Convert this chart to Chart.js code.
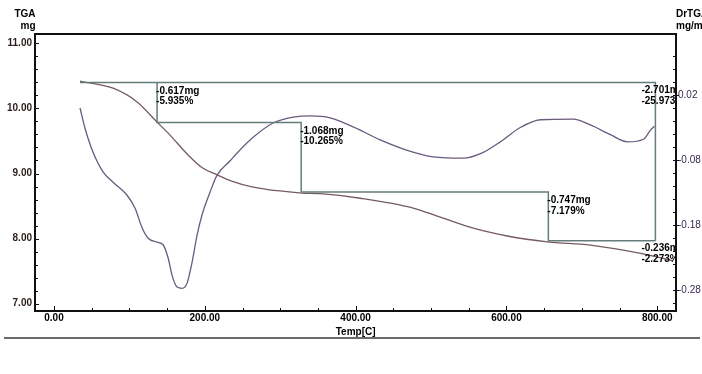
<!DOCTYPE html>
<html>
<head>
<meta charset="utf-8">
<script src="https://cdn.jsdelivr.net/npm/chart.js@4"></script>
<style>
    html, body { margin: 0; padding: 0; background: #ffffff; }
    #wrap { position: relative; width: 702px; height: 374px; }
</style>
</head>
<body>
<div id="wrap"><canvas id="tga" width="702" height="374"></canvas></div>
<script>
// TGA curve (temperature in C, mass in mg)
const tgaTemp = [34.5, 78.3, 110.2, 136.7, 153.9, 176.5, 197.7, 216.3, 233.6, 264.1, 329.1, 353.0, 406.1, 476.4, 512.3, 556.1, 601.2, 654.3, 711.4, 760.5, 795.0, 820.2];
const tgaMass = [10.42, 10.31, 10.10, 9.79, 9.59, 9.30, 9.08, 8.98, 8.89, 8.79, 8.70, 8.69, 8.62, 8.47, 8.33, 8.16, 8.04, 7.95, 7.90, 7.81, 7.73, 7.66];

// DrTGA curve (mg/min)
const dtgTemp = [34.5, 41.1, 51.8, 65.0, 78.3, 96.9, 107.5, 116.8, 124.8, 136.7, 144.6, 151.3, 156.6, 163.2, 169.9, 176.5, 183.1, 189.8, 196.4, 207.0, 216.3, 233.6, 242.9, 264.1, 290.6, 317.2, 339.7, 366.3, 396.8, 432.6, 468.5, 503.0, 542.8, 569.3, 591.9, 618.4, 645.0, 688.8, 711.4, 737.9, 760.5, 781.7, 791.0, 796.3];
const dtgRate = [0.000, -0.031, -0.068, -0.098, -0.114, -0.134, -0.154, -0.184, -0.200, -0.206, -0.210, -0.230, -0.257, -0.275, -0.277, -0.269, -0.237, -0.195, -0.164, -0.129, -0.103, -0.081, -0.069, -0.045, -0.023, -0.014, -0.012, -0.015, -0.029, -0.049, -0.065, -0.075, -0.077, -0.068, -0.052, -0.030, -0.018, -0.017, -0.026, -0.041, -0.052, -0.048, -0.034, -0.028];

// Step analysis: boundaries and mass at each boundary
const stepTemp = [34.5, 136.7, 327.8, 655.6, 797.6];
const stepMass = [10.399, 9.783, 8.715, 7.968, 7.732];
const lossMg = ['-0.617mg', '-1.068mg', '-0.747mg', '-0.236mg'];
const lossPct = ['-5.935%', '-10.265%', '-7.179%', '-2.273%'];
const totalMg = '-2.701mg';
const totalPct = '-25.973%';

// Tick labels
const xTicks = [0, 200, 400, 600, 800];
const yTicks = [7, 8, 9, 10, 11];
const y2Ticks = [0.02, -0.08, -0.18, -0.28];

const colors = {
    tga: '#765a62',
    dtg: '#6a5a7e',
    step: '#667c7c',
    axis: '#111111',
    leftLabel: '#2c1c1c',
    rightLabel: '#3c2850'
};

function pts(xs, ys) {
    return xs.map((x, i) => ({ x: x, y: ys[i] }));
}

// step outline: top line + right drop, and the staircase
const outline = [
    { x: stepTemp[0], y: stepMass[0] },
    { x: stepTemp[4], y: stepMass[0] },
    { x: stepTemp[4], y: stepMass[3] }
];
const stairs = [];
for (let i = 1; i < 4; i++) {
    stairs.push({ x: stepTemp[i], y: stepMass[i - 1] });
    stairs.push({ x: stepTemp[i], y: stepMass[i] });
}
stairs.push({ x: stepTemp[4], y: stepMass[3] });

const frameAndText = {
    id: 'frameAndText',
    afterDatasetsDraw(chart) {
        const ctx = chart.ctx;
        const a = chart.chartArea;
        const sx = chart.scales.x, sy = chart.scales.y, sy2 = chart.scales.y2;

        // annotation text, clipped to plot area
        ctx.save();
        ctx.beginPath();
        ctx.rect(a.left, a.top, a.right - a.left, a.bottom - a.top);
        ctx.clip();
        ctx.fillStyle = '#000';
        ctx.font = 'bold 10px "Liberation Sans", Arial, sans-serif';
        ctx.textAlign = 'left';
        ctx.textBaseline = 'middle';
        for (let i = 0; i < 3; i++) {
            const px = sx.getPixelForValue(stepTemp[i + 1]) - 1;
            const py = sy.getPixelForValue(stepMass[i]);
            ctx.fillText(lossMg[i], px, py + 8.5);
            ctx.fillText(lossPct[i], px, py + 19);
        }
        const ex = sx.getPixelForValue(stepTemp[4]) - 14;
        let ey = sy.getPixelForValue(stepMass[3]);
        ctx.fillText(lossMg[3], ex, ey + 8);
        ctx.fillText(lossPct[3], ex, ey + 18.5);
        ey = sy.getPixelForValue(stepMass[0]);
        ctx.fillText(totalMg, ex, ey + 8);
        ctx.fillText(totalPct, ex, ey + 18.5);
        ctx.restore();

        // frame
        ctx.save();
        ctx.strokeStyle = colors.axis;
        ctx.lineWidth = 2;
        ctx.strokeRect(a.left, a.top, a.right - a.left, a.bottom - a.top);

        // tick marks (inward)
        ctx.lineWidth = 1;
        ctx.beginPath();
        for (let v = 7; v <= 11.01; v += 0.2) {
            const p = Math.round(sy.getPixelForValue(v)) + 0.5;
            const len = Math.abs(v - Math.round(v)) < 0.01 ? 4 : 3;
            ctx.moveTo(a.left, p); ctx.lineTo(a.left + len, p);
        }
        for (let v = 0; v <= 800; v += 50) {
            const p = Math.round(sx.getPixelForValue(v)) + 0.5;
            const len = v % 200 === 0 ? 5 : 3;
            ctx.moveTo(p, a.bottom); ctx.lineTo(p, a.bottom - len);
        }
        for (let v = -0.30; v <= 0.10; v += 0.02) {
            const p = Math.round(sy2.getPixelForValue(v)) + 0.5;
            ctx.moveTo(a.right, p); ctx.lineTo(a.right - 3, p);
        }
        y2Ticks.forEach(v => {
            const p = Math.round(sy2.getPixelForValue(v)) + 0.5;
            ctx.moveTo(a.right - 3, p); ctx.lineTo(a.right + 3, p);
        });
        ctx.stroke();

        // axis titles
        ctx.fillStyle = '#000';
        ctx.font = 'bold 10px "Liberation Sans", Arial, sans-serif';
        ctx.textBaseline = 'middle';
        ctx.textAlign = 'center';
        ctx.fillText('TGA', 25, 14);
        ctx.fillText('mg', 28, 26);
        ctx.fillText('Temp[C]', sx.getPixelForValue(400), 332);
        ctx.textAlign = 'left';
        ctx.fillText('DrTGA', a.right, 14);
        ctx.fillText('mg/min', a.right, 26);

        // bottom rule
        ctx.strokeStyle = '#3a3a3a';
        ctx.lineWidth = 1.5;
        ctx.beginPath();
        ctx.moveTo(4, 338);
        ctx.lineTo(700, 338);
        ctx.stroke();
        ctx.restore();
    }
};

function fixedTicks(values) {
    return function(scale) {
        scale.ticks = values.map(v => ({ value: v }));
    };
}

new Chart(document.getElementById('tga'), {
    type: 'line',
    data: {
        datasets: [
            { data: outline, yAxisID: 'y', borderColor: colors.step, borderWidth: 1.5, pointRadius: 0, tension: 0 },
            { data: stairs, yAxisID: 'y', borderColor: colors.step, borderWidth: 1.5, pointRadius: 0, tension: 0 },
            { data: pts(tgaTemp, tgaMass), yAxisID: 'y', borderColor: colors.tga, borderWidth: 1.3, pointRadius: 0, cubicInterpolationMode: 'monotone' },
            { data: pts(dtgTemp, dtgRate), yAxisID: 'y2', borderColor: colors.dtg, borderWidth: 1.3, pointRadius: 0, cubicInterpolationMode: 'monotone' }
        ]
    },
    options: {
        responsive: false,
        animation: false,
        layout: { padding: { top: 34, left: 0, right: 0, bottom: 0 } },
        plugins: { legend: { display: false }, tooltip: { enabled: false } },
        scales: {
            x: {
                type: 'linear',
                min: -25.2,
                max: 824.9,
                afterBuildTicks: fixedTicks(xTicks),
                afterFit: s => { s.height = 63; },
                grid: { display: false, drawTicks: false },
                border: { display: false },
                ticks: {
                    padding: 1,
                    maxRotation: 0,
                    color: '#000',
                    font: { family: '"Liberation Sans", Arial, sans-serif', size: 10, weight: 'bold' },
                    callback: v => v.toFixed(2)
                }
            },
            y: {
                position: 'left',
                min: 6.888,
                max: 11.143,
                afterBuildTicks: fixedTicks(yTicks),
                afterFit: s => { s.width = 35; },
                grid: { display: false, drawTicks: false },
                border: { display: false },
                ticks: {
                    padding: 3,
                    color: colors.leftLabel,
                    font: { family: '"Liberation Sans", Arial, sans-serif', size: 10, weight: 'bold' },
                    callback: v => v.toFixed(2)
                }
            },
            y2: {
                position: 'right',
                min: -0.3118,
                max: 0.1137,
                afterBuildTicks: fixedTicks(y2Ticks),
                afterFit: s => { s.width = 26; },
                grid: { display: false, drawTicks: false },
                border: { display: false },
                ticks: {
                    padding: 2,
                    color: colors.rightLabel,
                    font: { family: '"Liberation Sans", Arial, sans-serif', size: 10 },
                    callback: v => v.toFixed(2)
                }
            }
        }
    },
    plugins: [frameAndText]
});
</script>
</body>
</html>
